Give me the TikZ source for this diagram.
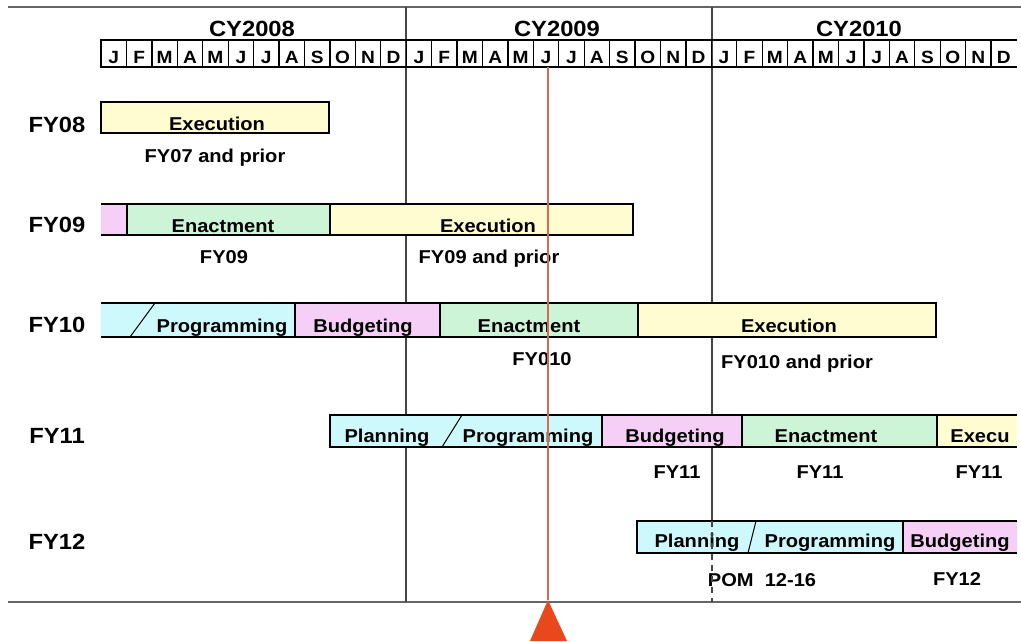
\documentclass[tikz,border=0pt]{standalone}
\usepackage{fontspec}
\setmainfont{Liberation Sans}[FakeStretch=1.08]
\definecolor{execfill}{HTML}{FFFCD2}
\definecolor{enactfill}{HTML}{CDF4D6}
\definecolor{progfill}{HTML}{CDF8FC}
\definecolor{budgfill}{HTML}{F5CFF5}
\definecolor{rulegray}{HTML}{666666}
\definecolor{yeargray}{HTML}{444444}
\definecolor{todayred}{HTML}{D86A55}
\definecolor{todayfill}{HTML}{E8481C}
\tikzset{
  yeartext/.style={font=\fontsize{22}{24}\selectfont\bfseries, inner sep=0pt, anchor=base},
  monthtext/.style={font=\fontsize{17.7}{19}\selectfont\bfseries, inner sep=0pt, anchor=base},
  fytext/.style={font=\fontsize{22}{24}\selectfont\bfseries, inner sep=0pt, anchor=base},
  bartext/.style={font=\fontsize{18.6}{20}\selectfont\bfseries, inner sep=0pt, anchor=base},
  subtext/.style={font=\fontsize{18.6}{20}\selectfont\bfseries, inner sep=0pt, anchor=base},
  barline/.style={line width=2pt, black},
  frameline/.style={line width=2pt, rulegray},
  yearline/.style={line width=1.1pt, yeargray},
  monthline/.style={line width=1.3pt, black},
}
\begin{document}
\begin{tikzpicture}[x=1pt,y=-1pt]
\useasboundingbox (0,0) rectangle (1021,641);

% frame rules
\draw[frameline] (8,7) -- (1021,7);
\draw[frameline] (8,602) -- (1021,602);

% year boundaries
\draw[yearline] (406,7) -- (406,602);
\draw[yearline] (712,7) -- (712,521);

% year headings
\node[yeartext] (cy08) at (252,36) {CY2008};
\node[yeartext] (cy09) at (557,36) {CY2009};
\node[yeartext] (cy10) at (859,36) {CY2010};

% month strip
\draw[monthline] (100,40) -- (1017,40);
\draw[line width=2.4pt] (100,67) -- (1017,67);
\foreach \k in {0,...,35}
  \draw[monthline] ({101+\k*25.43},40) -- ({101+\k*25.43},67);
\foreach \m [count=\i from 0] in {J,F,M,A,M,J,J,A,S,O,N,D,J,F,M,A,M,J,J,A,S,O,N,D,J,F,M,A,M,J,J,A,S,O,N,D}
  \node[monthtext] (mon\i) at ({101+(\i+0.5)*25.43},63) {\m};

% fiscal year labels
\node[fytext] (fy08) at (57,132) {FY08};
\node[fytext] (fy09) at (57,232) {FY09};
\node[fytext] (fy10) at (57,332) {FY10};
\node[fytext] (fy11) at (57,443) {FY11};
\node[fytext] (fy12) at (57,549) {FY12};

% FY08
\fill[execfill] (101,102) rectangle (329,133);
\draw[barline] (101,102) rectangle (329,133);
\node[bartext] (a1) at (217,130) {Execution};
\node[subtext] (a1s) at (215,162) {FY07 and prior};

% FY09
\fill[budgfill] (101,204) rectangle (127,235);
\fill[enactfill] (127,204) rectangle (330,235);
\fill[execfill] (330,204) rectangle (633,235);
\draw[barline] (101,204) -- (633,204) -- (633,235) -- (101,235);
\draw[barline] (127,204) -- (127,235) (330,204) -- (330,235);
\node[bartext] (b1) at (223,232) {Enactment};
\node[bartext] (b2) at (488,232) {Execution};
\node[subtext] (b1s) at (224,263) {FY09};
\node[subtext] (b2s) at (489,263) {FY09 and prior};

% FY10
\fill[progfill] (101,303) rectangle (295,337);
\fill[budgfill] (295,303) rectangle (440,337);
\fill[enactfill] (440,303) rectangle (638,337);
\fill[execfill] (638,303) rectangle (936,337);
\draw[barline] (101,303) -- (936,303) -- (936,337) -- (101,337);
\draw[barline] (295,303) -- (295,337) (440,303) -- (440,337) (638,303) -- (638,337);
\draw[line width=1pt] (130,337) -- (155,303);
\node[bartext] (c1) at (222,332) {Programming};
\node[bartext] (c2) at (363,332) {Budgeting};
\node[bartext] (c3) at (529,332) {Enactment};
\node[bartext] (c4) at (789,332) {Execution};
\node[subtext] (c3s) at (542,365) {FY010};
\node[subtext] (c4s) at (797,368) {FY010 and prior};

% FY11
\fill[progfill] (330,415) rectangle (602,447);
\fill[budgfill] (602,415) rectangle (742,447);
\fill[enactfill] (742,415) rectangle (937,447);
\fill[execfill] (937,415) rectangle (1017,447);
\draw[barline] (1017,415) -- (330,415) -- (330,447) -- (1017,447);
\draw[barline] (602,415) -- (602,447) (742,415) -- (742,447) (937,415) -- (937,447);
\draw[line width=1pt] (442,447) -- (462,415);
\node[bartext] (d1) at (387,442) {Planning};
\node[bartext] (d2) at (528,442) {Programming};
\node[bartext] (d3) at (675,442) {Budgeting};
\node[bartext] (d4) at (826,442) {Enactment};
\node[bartext] (d5) at (980,442) {Execu};
\node[subtext] (d3s) at (677,478) {FY11};
\node[subtext] (d4s) at (820,478) {FY11};
\node[subtext] (d5s) at (979,478) {FY11};

% FY12
\fill[progfill] (637,521) rectangle (903,553);
\fill[budgfill] (903,521) rectangle (1017,553);
\draw[barline] (1017,521) -- (637,521) -- (637,553) -- (1017,553);
\draw[barline] (903,521) -- (903,553);
\draw[line width=1pt] (748,553) -- (756,521);
\node[bartext] (e1) at (697,547) {Planning};
\node[bartext] (e2) at (830,547) {Programming};
\node[bartext] (e3) at (960,547) {Budgeting};
\node[subtext] (e2s) at (762,586) {POM\hspace{0.6em}12-16};
\node[subtext] (e3s) at (957,585) {FY12};

% CY2010 boundary continues dashed through FY12
\draw[yearline, dash pattern=on 6pt off 5pt] (712,521) -- (712,602);

% current-date marker
\draw[todayred, line width=1.3pt] (548,67) -- (548,600);
\fill[todayfill] (548,600) -- (567,641) -- (530,641) -- cycle;
\end{tikzpicture}
\end{document}
